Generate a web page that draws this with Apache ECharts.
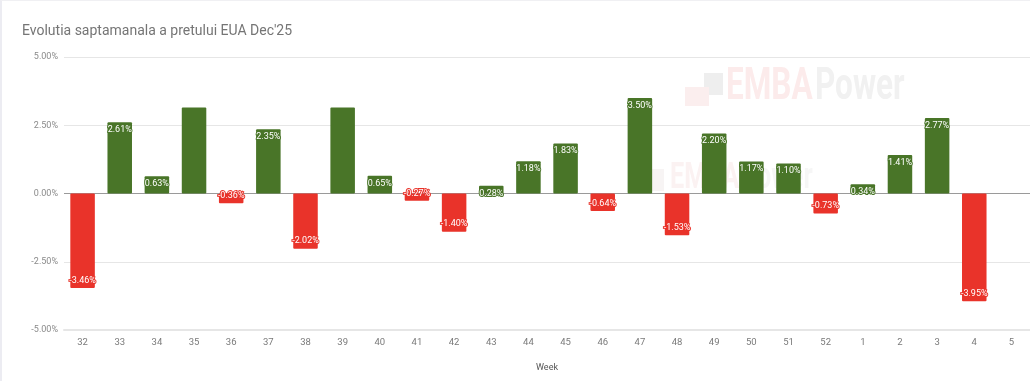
<!DOCTYPE html>
<html>
<head>
<meta charset="utf-8">
<script src="https://cdn.jsdelivr.net/npm/echarts@6/dist/echarts.min.js"></script>
<style>
html,body{margin:0;padding:0;background:#fff;}
#chart{width:1030px;height:381px;box-sizing:border-box;border-left:2px solid #ececf2;border-top:1px solid #f0f0f3;}
</style>
</head>
<body>
<div id="chart"></div>
<script>
const weeks = ['32','33','34','35','36','37','38','39','40','41','42','43','44','45','46','47','48','49','50','51','52','1','2','3','4','5'];
const changes = [-3.46, 2.61, 0.63, 3.15, -0.36, 2.35, -2.02, 3.15, 0.65, -0.27, -1.40, 0.28, 1.18, 1.83, -0.64, 3.50, -1.53, 2.20, 1.17, 1.10, -0.73, 0.34, 1.41, 2.77, -3.95, null];
const labelShown = [true, true, true, false, true, true, true, false, true, true, true, true, true, true, true, true, true, true, true, true, true, true, true, true, true, false];
const yTicks = [-5, -2.5, 0, 2.5, 5];

const GREEN = '#497528';
const RED = '#e9332a';

const chart = echarts.init(document.getElementById('chart'), null, {renderer: 'canvas'});

const seriesData = changes.map((v, i) => {
  if (v === null) return null;
  const col = v >= 0 ? GREEN : RED;
  return {
    value: v,
    itemStyle: {color: col},
    label: {
      show: labelShown[i],
      position: v >= 0 ? 'insideTop' : 'insideBottom',
      distance: 3,
      color: '#ffffff',
      fontSize: 9,
      fontFamily: 'Roboto',
      textBorderColor: col,
      textBorderWidth: 2,
      formatter: () => v.toFixed(2) + '%'
    }
  };
});

function wm(x, y, text, size, fill, sx) {
  return {type: 'text', x: x, y: y, scaleX: sx, z: -10, silent: true,
    style: {text: text, x: 0, y: 0, verticalAlign: 'top', fontFamily: 'Roboto', fontWeight: 'bold', fontSize: size, fill: fill}};
}

chart.setOption({
  animation: false,
  backgroundColor: '#ffffff',
  title: {
    text: "Evolutia saptamanala a pretului EUA Dec'25",
    left: 15,
    top: 18,
    textStyle: {fontFamily: 'Roboto', fontSize: 14, fontWeight: 'normal', color: '#757575'}
  },
  graphic: [
    {type: 'rect', x: 702, y: 72, shape: {width: 19, height: 22}, style: {fill: '#eeeeee'}, z: -10, silent: true},
    {type: 'rect', x: 683, y: 86, shape: {width: 24, height: 19}, style: {fill: '#fbeeee'}, z: -10, silent: true},
    wm(724, 64, 'EMBA', 45, '#fcebeb', 0.7),
    wm(813, 64, 'Power', 45, '#f1f1f1', 0.7),
    {type: 'rect', x: 648, y: 168, shape: {width: 14, height: 22}, style: {fill: '#f7f4f4'}, z: -10, silent: true},
    wm(668, 160, 'EMBA', 36, '#fbf2f2', 0.7),
    wm(739, 160, 'Power', 36, '#f6f6f6', 0.7)
  ],
  grid: {left: 62, right: -3, top: 56, bottom: 51, containLabel: false},
  xAxis: {
    type: 'category',
    data: weeks,
    name: 'Week',
    nameLocation: 'middle',
    nameGap: 33,
    nameTextStyle: {fontFamily: 'Roboto', fontSize: 9, color: '#555555'},
    axisLine: {onZero: false, lineStyle: {color: '#e6e6e6', width: 2}},
    axisTick: {show: false},
    axisLabel: {fontFamily: 'Roboto', fontSize: 9.5, color: '#7a7a7a', margin: 8}
  },
  yAxis: {
    type: 'value',
    min: yTicks[0],
    max: yTicks[yTicks.length - 1],
    interval: 2.5,
    axisLine: {show: false},
    axisTick: {show: false},
    axisLabel: {fontFamily: 'Roboto', fontSize: 9, color: '#8a8a8a', margin: 6, formatter: v => v.toFixed(2) + '%'},
    splitLine: {lineStyle: {color: ['#e6e6e6', '#e6e6e6', '#9a9a9a', '#e6e6e6', '#e6e6e6'], width: 1}}
  },
  series: [{
    type: 'bar',
    data: seriesData,
    barCategoryGap: '34%',
    itemStyle: {borderRadius: 1}
  }]
});
</script>
</body>
</html>
